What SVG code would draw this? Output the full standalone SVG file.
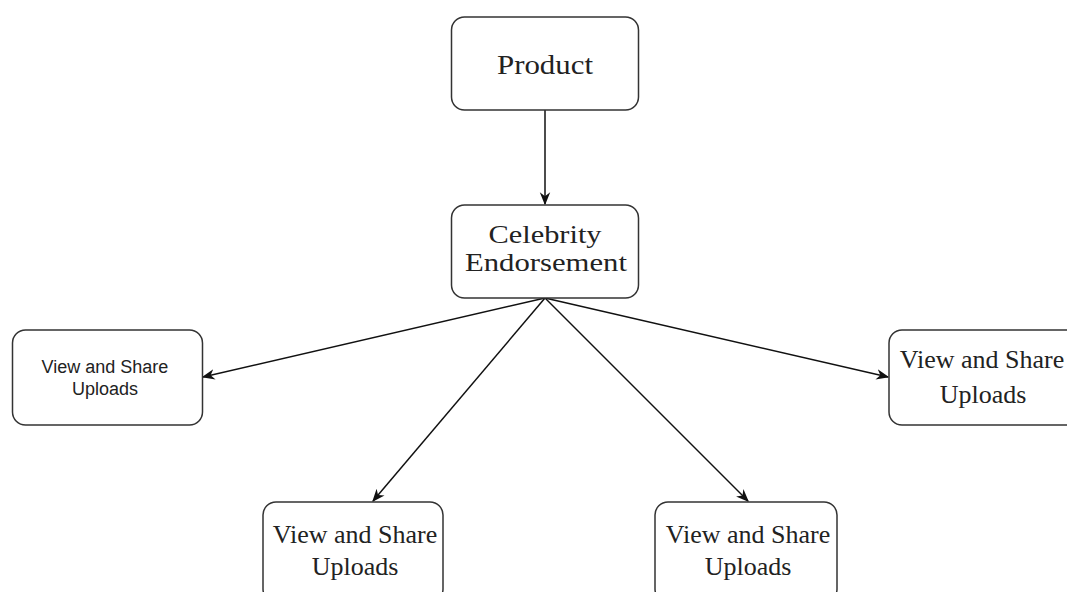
<svg xmlns="http://www.w3.org/2000/svg" width="1067" height="592" viewBox="0 0 1067 592">
<defs>
<style>
.box{fill:#fff;stroke:#333;stroke-width:1.5}
.serif{font-family:"Liberation Serif","Times New Roman",serif;font-size:26px;fill:#222;text-anchor:middle}
.big{font-size:28px}
.mid{font-size:25px}
.sans{font-family:"Liberation Sans",Arial,sans-serif;font-size:18px;fill:#222;text-anchor:middle}
.edge{stroke:#111;stroke-width:1.5;fill:none;marker-end:url(#arr)}
</style>
<marker id="arr" viewBox="0 0 10 10" refX="9" refY="5" markerWidth="13" markerHeight="13" markerUnits="userSpaceOnUse" orient="auto">
<path d="M0,1 L10,5 L0,9 L3,5 Z" fill="#111"/>
</marker>
</defs>
<rect width="1067" height="592" fill="#fff"/>
<g id="connectors">
<line class="edge" x1="545" y1="110" x2="545" y2="204"/>
<line class="edge" x1="545" y1="298" x2="203" y2="377"/>
<line class="edge" x1="545" y1="298" x2="888" y2="377"/>
<line class="edge" x1="545" y1="298" x2="373" y2="501"/>
<line class="edge" x1="545" y1="298" x2="748" y2="501"/>
</g>
<g id="product">
<rect class="box" x="451.5" y="17" width="187" height="93" rx="13"/>
<text class="serif big" x="545" y="74" textLength="96" lengthAdjust="spacingAndGlyphs">Product</text>
</g>
<g id="celebrity">
<rect class="box" x="451.5" y="205" width="187" height="93" rx="13"/>
<text class="serif mid" x="545" y="243" textLength="113" lengthAdjust="spacingAndGlyphs">Celebrity</text>
<text class="serif mid" x="546" y="271" textLength="162" lengthAdjust="spacingAndGlyphs">Endorsement</text>
</g>
<g id="left">
<rect class="box" x="12.5" y="330" width="190" height="95" rx="13"/>
<text class="sans" x="105" y="373">View and Share</text>
<text class="sans" x="105" y="395">Uploads</text>
</g>
<g id="right">
<rect class="box" x="889" y="330" width="190" height="95" rx="13"/>
<text class="serif" x="982" y="368">View and Share</text>
<text class="serif" x="983" y="403">Uploads</text>
</g>
<g id="bottom-left">
<rect class="box" x="263" y="502" width="180" height="100" rx="13"/>
<text class="serif" x="355" y="543">View and Share</text>
<text class="serif" x="355" y="575">Uploads</text>
</g>
<g id="bottom-right">
<rect class="box" x="655" y="502" width="182" height="100" rx="13"/>
<text class="serif" x="748" y="543">View and Share</text>
<text class="serif" x="748" y="575">Uploads</text>
</g>
</svg>
